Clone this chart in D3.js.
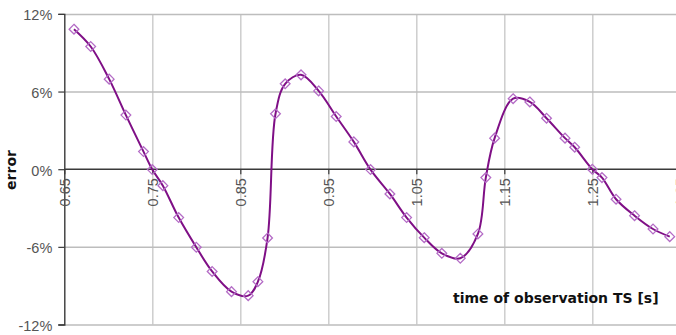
<!DOCTYPE html>
<html>
<head>
<meta charset="utf-8">
<script src="https://cdn.jsdelivr.net/npm/d3@7"></script>
<style>
  html, body { margin: 0; padding: 0; background: #fff; }
  svg { display: block; }
</style>
</head>
<body>
<svg id="chart" width="676" height="335"></svg>
<script>
// Observation times (s) of the sampled points
const times = [0.661, 0.680, 0.701, 0.720, 0.740, 0.750, 0.762, 0.780, 0.800, 0.818,
               0.840, 0.859, 0.870, 0.881, 0.890, 0.901, 0.919, 0.939, 0.959, 0.979,
               0.998, 1.020, 1.039, 1.059, 1.079, 1.100, 1.120, 1.129, 1.139, 1.160,
               1.179, 1.198, 1.219, 1.230, 1.250, 1.261, 1.277, 1.298, 1.319, 1.338];
// Error at each observation time (%)
const errors = [10.82, 9.48, 6.96, 4.18, 1.36, -0.03, -1.27, -3.74, -6.03, -7.90,
                -9.46, -9.77, -8.69, -5.31, 4.28, 6.60, 7.29, 6.05, 4.07, 2.11,
                -0.03, -1.91, -3.74, -5.29, -6.50, -6.88, -5.00, -0.65, 2.40, 5.45,
                5.20, 3.94, 2.40, 1.70, 0.00, -0.65, -2.32, -3.59, -4.62, -5.21];
// Axis ticks
const xTicks = [0.65, 0.75, 0.85, 0.95, 1.05, 1.15, 1.25, 1.35];
const yTicks = [-12, -6, 0, 6, 12];
const xTitle = "time of observation TS [s]";
const yTitle = "error";

const points = times.map((t, i) => ({ t, e: errors[i] }));

const svg = d3.select("#chart");
const plot = { left: 64.3, right: 680.3, top: 13.9, bottom: 324.5 };

const x = d3.scaleLinear().domain([0.65, 1.35]).range([plot.left, plot.right]);
const y = d3.scaleLinear().domain([-12, 12]).range([plot.bottom, plot.top]);

// vertical grid
svg.append("g")
  .attr("transform", `translate(0,${plot.bottom})`)
  .call(d3.axisBottom(x).tickValues(xTicks.slice(1)).tickSize(-(plot.bottom - plot.top)).tickFormat(""))
  .call(g => g.select(".domain").remove())
  .call(g => g.selectAll("line").attr("stroke", "#cdcdcd").attr("stroke-width", 1.5));

// horizontal grid
svg.append("g")
  .attr("transform", `translate(${plot.left},0)`)
  .call(d3.axisLeft(y).tickValues(yTicks.filter(v => v !== 0)).tickSize(-(plot.right - plot.left)).tickFormat(""))
  .call(g => g.select(".domain").remove())
  .call(g => g.selectAll("line").attr("stroke", "#bdbdbd").attr("stroke-width", 1.5));

// y axis
svg.append("g")
  .attr("transform", `translate(${plot.left},0)`)
  .call(d3.axisLeft(y).tickValues(yTicks).tickSize(6).tickPadding(6).tickFormat(d => d + "%"))
  .call(g => g.select(".domain").attr("stroke", "#3a3a3a").attr("stroke-width", 1.4))
  .call(g => g.selectAll(".tick line").attr("stroke", "#3a3a3a").attr("stroke-width", 1.2))
  .call(g => g.selectAll("text")
    .attr("fill", "#555")
    .attr("font-family", "Liberation Sans, Arial, sans-serif")
    .attr("font-size", 14.5)
    .attr("dy", "0.42em"));

// x axis along the zero line
const xAxis = svg.append("g")
  .attr("transform", `translate(0,${y(0)})`)
  .call(d3.axisBottom(x).tickValues(xTicks).tickSize(5).tickFormat(d3.format(".2f")))
  .call(g => g.select(".domain").attr("stroke", "#3a3a3a").attr("stroke-width", 1.4).attr("d", `M${plot.left},0H${plot.right}`))
  .call(g => g.selectAll(".tick line").attr("stroke", "#3a3a3a").attr("stroke-width", 1.2));
xAxis.selectAll("text")
  .attr("fill", "#555")
  .attr("font-family", "Liberation Sans, Arial, sans-serif")
  .attr("font-size", 14.5)
  .attr("text-anchor", "end")
  .attr("transform", "rotate(-90)")
  .attr("x", -9)
  .attr("y", 0)
  .attr("dy", "0.36em");

// smoothed error curve
svg.append("path")
  .datum(points)
  .attr("fill", "none")
  .attr("stroke", "#7f0f86")
  .attr("stroke-width", 2)
  .attr("d", d3.line().x(d => x(d.t)).y(d => y(d.e)).curve(d3.curveCatmullRom.alpha(0.5)));

// open diamond markers
svg.append("g")
  .selectAll("path")
  .data(points)
  .join("path")
  .attr("transform", d => `translate(${x(d.t)},${y(d.e)})`)
  .attr("d", d3.symbol(d3.symbolDiamond2, 60))
  .attr("fill", "none")
  .attr("stroke", "#b46cc6")
  .attr("stroke-width", 1.3);

// axis titles
svg.append("text")
  .attr("transform", `translate(16,170) rotate(-90)`)
  .attr("text-anchor", "middle")
  .attr("font-family", "DejaVu Sans, Verdana, sans-serif")
  .attr("font-weight", "bold")
  .attr("font-size", 14)
  .attr("fill", "#111")
  .text(yTitle);

svg.append("text")
  .attr("x", 453)
  .attr("y", 303)
  .attr("font-family", "DejaVu Sans, Verdana, sans-serif")
  .attr("font-weight", "bold")
  .attr("font-size", 14)
  .attr("fill", "#111")
  .text(xTitle);
</script>
</body>
</html>
